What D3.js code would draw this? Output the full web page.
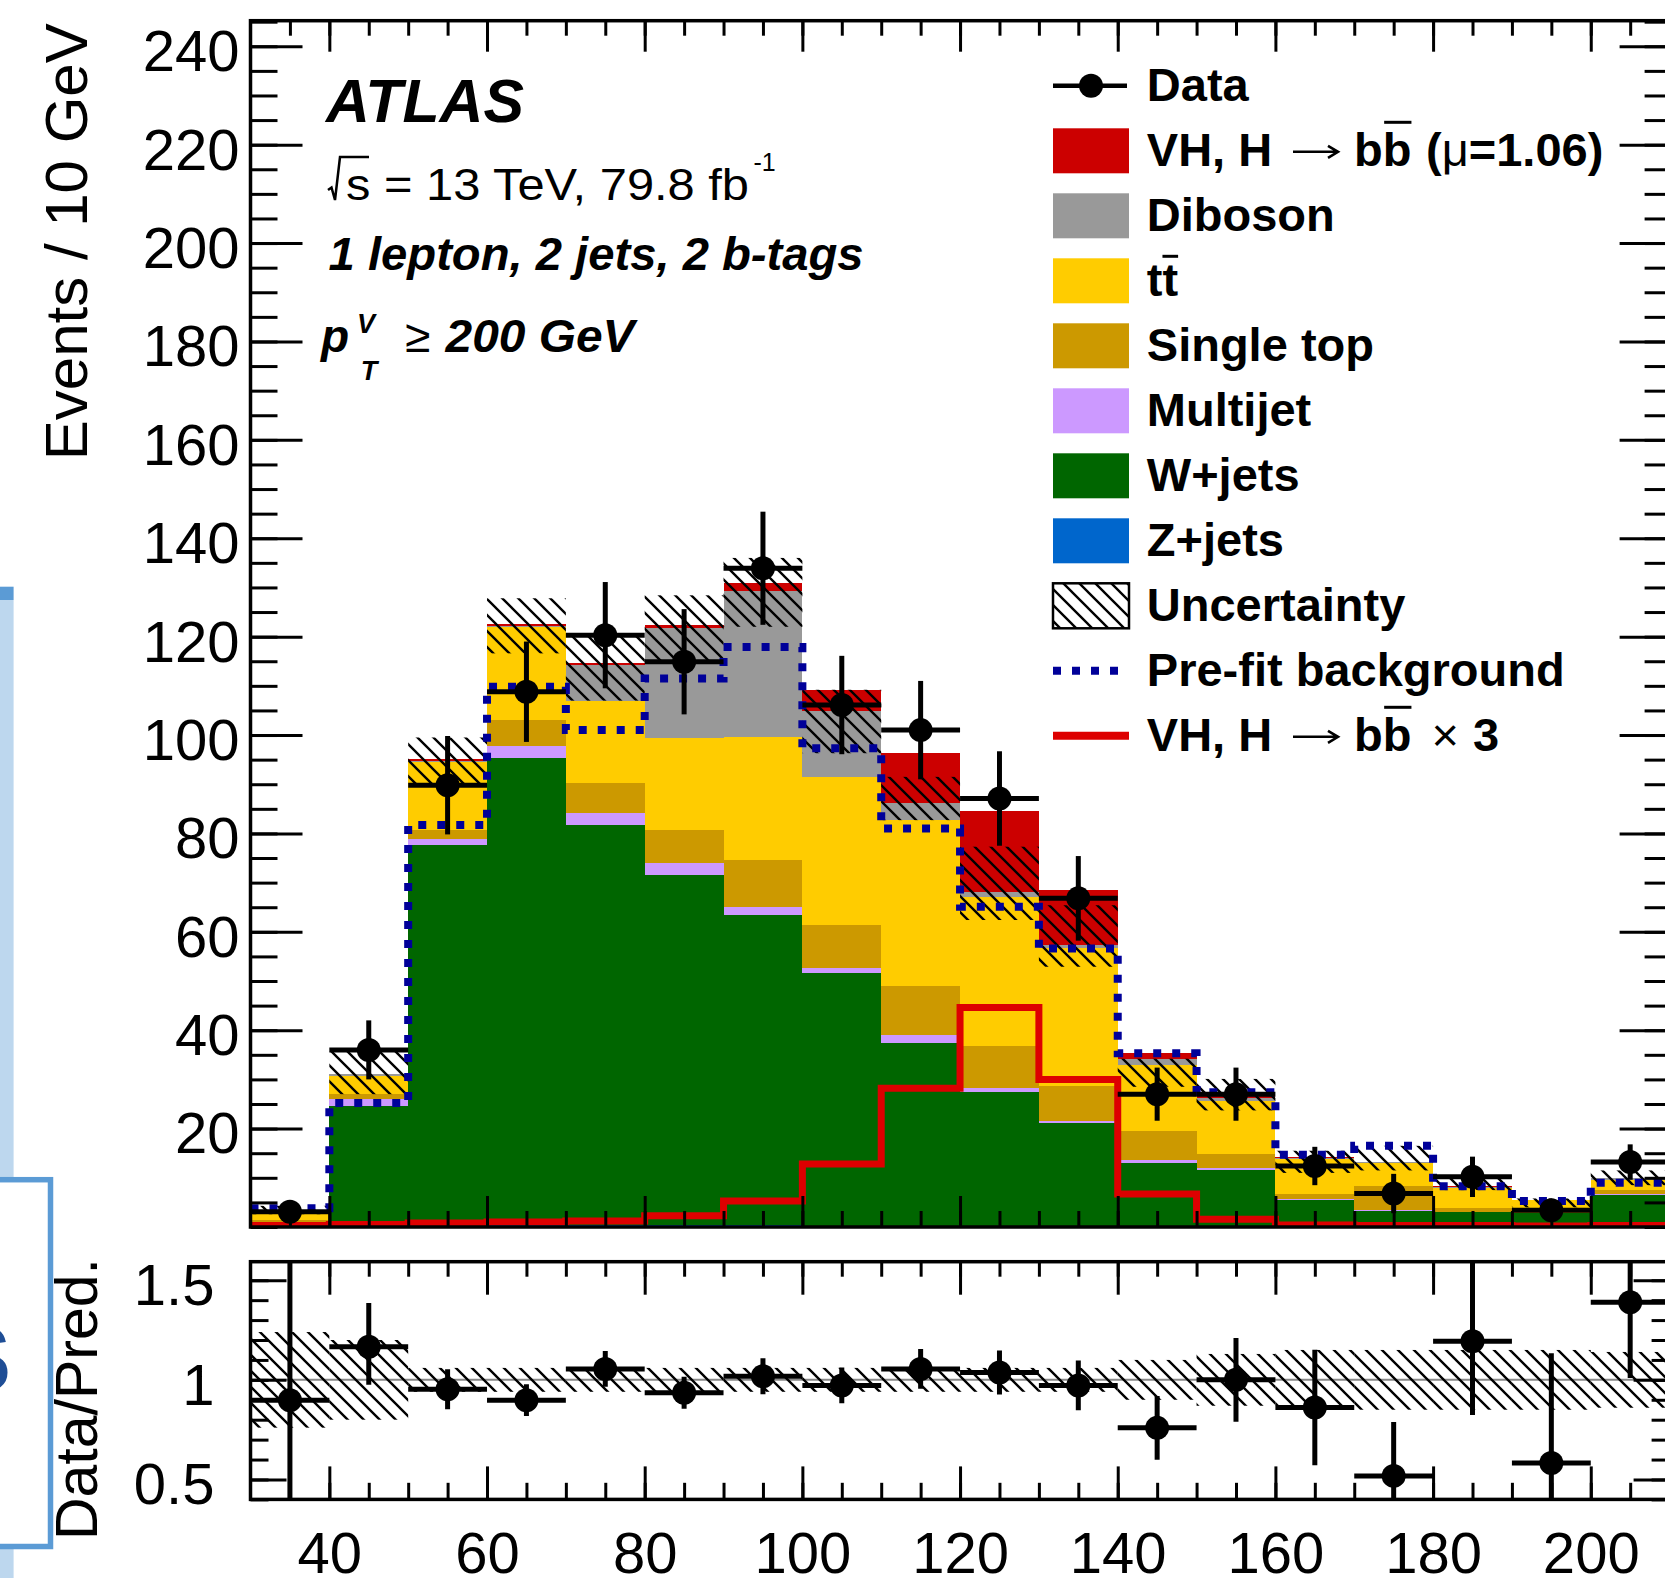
<!DOCTYPE html>
<html>
<head>
<meta charset="utf-8">
<script src="https://cdn.jsdelivr.net/npm/d3@7"></script>
<style>
body{margin:0;background:#fff;}
svg{display:block;font-family:"Liberation Sans",Arial,sans-serif;}
</style>
</head>
<body>
<svg id="chart" width="1665" height="1578"></svg>
<script>
// bins: lower edges in GeV, all 10 GeV wide
var binLo = [30,40,50,60,70,80,90,100,110,120,130,140,150,160,170,180,190,200];
var binWidth = 10;

// observed events and their error bars
var dataVals = [3.1,36.0,89.8,108.8,120.3,114.9,133.9,106.1,101.0,87.1,66.8,27.0,27.0,12.4,6.8,10.2,3.4,13.2];
var dataErr  = [1.9,6.0,10.0,10.2,10.8,10.7,11.5,10.0,10.0,9.6,8.6,5.4,5.4,3.9,4.0,4.1,1.9,3.6];

// post-fit stack components (bottom to top)
var zjets     = [0.05,0.3,0.4,0.4,0.5,0.5,0.4,0.3,0.3,0.3,0.3,0.3,0.2,0.1,0.1,0.1,0.1,0.1];
var wjets     = [0.8,24.3,77.2,94.9,81.2,71.0,63.0,51.3,37.0,27.2,20.8,12.8,11.3,5.3,3.2,2.9,2.7,6.4];
var multijet  = [0.1,1.5,1.3,2.4,2.4,2.4,1.7,1.0,1.8,0.8,0.4,0.5,0.4,0.2,0.1,0.1,0.1,0.2];
var singletop = [0.5,1.0,1.8,5.4,6.2,6.8,9.5,8.8,9.8,8.4,7.2,6.0,3.0,1.2,4.9,0.7,0.2,0.8];
var ttbar     = [1.4,3.6,13.8,18.8,16.7,18.6,25.1,30.1,33.8,30.4,28.1,13.4,10.8,7.0,4.7,4.2,2.3,2.0];
var diboson   = [0.5,0.3,0.3,0.3,7.2,22.4,29.5,13.3,3.4,1.0,0.5,1.1,0.5,0.3,0.2,0.2,0.1,0.4];
var vhSignal  = [0.1,0.2,0.3,0.3,0.4,0.6,1.8,4.4,10.2,16.4,11.2,1.2,0.5,0.2,0.1,0.1,0.05,0.1];

// hatched uncertainty band
var uncLow  = [2.6,27.0,89.5,116.6,107.0,115.2,122.0,96.3,82.7,62.4,52.9,28.5,23.7,11.0,11.5,7.5,4.0,8.5];
var uncHigh = [4.3,35.7,99.5,127.8,120.0,128.4,136.0,109.2,91.5,77.3,65.4,34.2,30.1,15.5,16.5,10.5,5.8,11.5];

// overlays
var prefitBkg = [3.8,25.2,81.7,109.8,101.0,111.5,117.9,97.3,81.0,65.1,56.6,35.3,27.4,14.7,16.5,8.3,5.3,9.0];
var vhTimes3  = [0.3,0.5,0.8,1.0,1.2,2.3,5.3,12.8,28.2,44.6,30.0,6.7,1.6,0.4,0.3,0.3,0.2,0.3];

// ratio panel
var ratioVals = [0.898,1.166,0.953,0.898,1.055,0.935,1.018,0.972,1.055,1.037,0.972,0.759,1.0,0.861,0.518,1.194,0.583,1.389];
var ratioUp   = [0.85,0.22,0.1,0.08,0.09,0.08,0.09,0.09,0.1,0.11,0.125,0.16,0.21,0.29,0.27,0.5,0.55,0.4];
var ratioDown = [0.5,0.19,0.1,0.08,0.09,0.08,0.09,0.09,0.1,0.11,0.125,0.16,0.21,0.29,0.25,0.37,0.4,0.38];
var ratioBand = [0.24,0.2,0.06,0.06,0.06,0.06,0.06,0.06,0.06,0.06,0.06,0.1,0.13,0.15,0.15,0.15,0.15,0.14];

// tick labels
var xTickLabels = [40,60,80,100,120,140,160,180,200];
var yTickLabels = [20,40,60,80,100,120,140,160,180,200,220,240];
var rTickLabels = [0.5,1,1.5];

var svg = d3.select("#chart");
var x  = d3.scaleLinear().domain([30,210]).range([250.5,1669.6]);
var y  = d3.scaleLinear().domain([0,245.2]).range([1227,20.7]);
var yr = d3.scaleLinear().domain([0.4,1.593]).range([1499.4,1261.7]);

var defs = svg.append("defs");
defs.append("pattern").attr("id","hatch").attr("patternUnits","userSpaceOnUse")
  .attr("width",16).attr("height",16)
  .append("path").attr("d","M-4,-4L20,20M-4,12L4,20M12,-4L20,4")
  .attr("stroke","#000").attr("stroke-width",2.4);
defs.append("clipPath").attr("id","clipMain").append("rect")
  .attr("x",250.5).attr("y",20.7).attr("width",1419.1).attr("height",1206.3);
defs.append("clipPath").attr("id","clipRatio").append("rect")
  .attr("x",250.5).attr("y",1261.7).attr("width",1419.1).attr("height",237.7);

// leftovers of the slide behind the plot
var bg = svg.append("g");
bg.append("rect").attr("x",0).attr("y",600).attr("width",13.6).attr("height",978).attr("fill","#bdd7ee");
bg.append("rect").attr("x",0).attr("y",586.7).attr("width",13.6).attr("height",13.3).attr("fill","#5b9bd5");
bg.append("rect").attr("x",-5).attr("y",1179.7).attr("width",55.5).attr("height",366.8)
  .attr("fill","#fff").attr("stroke","#5b9bd5").attr("stroke-width",5.5);
bg.append("text").attr("x",11).attr("y",1391).attr("text-anchor","end")
  .attr("font-size",92).attr("font-weight","bold").attr("fill","#1f4e96").text("S");

// ---------- main panel ----------
var keys = ["zjets","wjets","multijet","singletop","ttbar","diboson","vh"];
var colors = {zjets:"#0066cc", wjets:"#006600", multijet:"#cc99ff", singletop:"#cc9900",
              ttbar:"#ffcc00", diboson:"#999999", vh:"#cc0000"};
var rows = binLo.map(function(lo,i){
  return {lo:lo, zjets:zjets[i], wjets:wjets[i], multijet:multijet[i], singletop:singletop[i],
          ttbar:ttbar[i], diboson:diboson[i], vh:vhSignal[i]};
});
var stacked = d3.stack().keys(keys)(rows);

var main = svg.append("g").attr("clip-path","url(#clipMain)");
main.selectAll("g.layer").data(stacked).enter().append("g")
  .attr("class","layer").attr("fill",function(d){ return colors[d.key]; })
  .selectAll("rect").data(function(d){ return d; }).enter().append("rect")
  .attr("shape-rendering","crispEdges")
  .attr("x",function(d){ return x(d.data.lo); })
  .attr("width",function(d){ return x(d.data.lo+binWidth)-x(d.data.lo); })
  .attr("y",function(d){ return y(d[1]); })
  .attr("height",function(d){ return y(d[0])-y(d[1]); });

main.selectAll("rect.unc").data(binLo).enter().append("rect").attr("class","unc")
  .attr("x",function(d){ return x(d); })
  .attr("width",function(d){ return x(d+binWidth)-x(d); })
  .attr("y",function(d,i){ return y(uncHigh[i]); })
  .attr("height",function(d,i){ return y(uncLow[i])-y(uncHigh[i]); })
  .attr("fill","url(#hatch)");

var step = d3.line().x(function(d){ return x(d[0]); }).y(function(d){ return y(d[1]); })
  .curve(d3.curveStepAfter);
function stepPts(vals){
  var p = binLo.map(function(lo,i){ return [lo, vals[i]]; });
  p.push([binLo[binLo.length-1]+binWidth, vals[vals.length-1]]);
  return p;
}
main.append("path").attr("d",step(stepPts(vhTimes3)))
  .attr("fill","none").attr("stroke","#dd0000").attr("stroke-width",7);
main.append("path").attr("d",step(stepPts(prefitBkg)))
  .attr("fill","none").attr("stroke","#000099").attr("stroke-width",8)
  .attr("stroke-dasharray","8,11");

// data points
var pts = main.append("g").attr("stroke","#000").attr("stroke-width",5);
pts.selectAll("line.h").data(binLo).enter().append("line")
  .attr("x1",function(d){ return x(d); }).attr("x2",function(d){ return x(d+binWidth); })
  .attr("y1",function(d,i){ return y(dataVals[i]); }).attr("y2",function(d,i){ return y(dataVals[i]); });
pts.selectAll("line.v").data(binLo).enter().append("line")
  .attr("x1",function(d){ return x(d+binWidth/2); }).attr("x2",function(d){ return x(d+binWidth/2); })
  .attr("y1",function(d,i){ return y(dataVals[i]+dataErr[i]); })
  .attr("y2",function(d,i){ return y(Math.max(0,dataVals[i]-dataErr[i])); });
pts.selectAll("circle").data(binLo).enter().append("circle")
  .attr("cx",function(d){ return x(d+binWidth/2); })
  .attr("cy",function(d,i){ return y(dataVals[i]); })
  .attr("r",12).attr("fill","#000").attr("stroke","none");

// ---------- ratio panel ----------
var rat = svg.append("g").attr("clip-path","url(#clipRatio)");
rat.append("line").attr("x1",x(30)).attr("x2",x(210)).attr("y1",yr(1)).attr("y2",yr(1))
  .attr("stroke","#888").attr("stroke-width",2);
rat.selectAll("rect.band").data(binLo).enter().append("rect")
  .attr("x",function(d){ return x(d); })
  .attr("width",function(d){ return x(d+binWidth)-x(d); })
  .attr("y",function(d,i){ return yr(1+ratioBand[i]); })
  .attr("height",function(d,i){ return yr(1-ratioBand[i])-yr(1+ratioBand[i]); })
  .attr("fill","url(#hatch)");
var rpts = rat.append("g").attr("stroke","#000").attr("stroke-width",5);
rpts.selectAll("line.h").data(binLo).enter().append("line")
  .attr("x1",function(d){ return x(d); }).attr("x2",function(d){ return x(d+binWidth); })
  .attr("y1",function(d,i){ return yr(ratioVals[i]); }).attr("y2",function(d,i){ return yr(ratioVals[i]); });
rpts.selectAll("line.v").data(binLo).enter().append("line")
  .attr("x1",function(d){ return x(d+binWidth/2); }).attr("x2",function(d){ return x(d+binWidth/2); })
  .attr("y1",function(d,i){ return yr(ratioVals[i]+ratioUp[i]); })
  .attr("y2",function(d,i){ return yr(ratioVals[i]-ratioDown[i]); });
rpts.selectAll("circle").data(binLo).enter().append("circle")
  .attr("cx",function(d){ return x(d+binWidth/2); })
  .attr("cy",function(d,i){ return yr(ratioVals[i]); })
  .attr("r",12).attr("fill","#000").attr("stroke","none");

// ---------- axes ----------
var tickFont = 58;
function axis(gen, tx, ty){
  var g = svg.append("g").attr("transform","translate("+tx+","+ty+")").call(gen);
  g.select(".domain").remove();
  g.selectAll(".tick line").attr("stroke","#000").attr("stroke-width",3);
  g.attr("font-size",tickFont).attr("font-family","Liberation Sans, Arial, sans-serif");
  g.selectAll(".tick text").attr("fill","#000");
  return g;
}
var xMinor = d3.range(35,210,5);
var yMinor = d3.range(0,246,5);
var rMinor = d3.range(4,16).map(function(v){ return v/10; });

// main y
axis(d3.axisLeft(y).tickValues(yTickLabels).tickSize(-52).tickPadding(11), 250.5, 0)
  .selectAll(".tick text").attr("dy","0.42em");
axis(d3.axisLeft(y).tickValues(yMinor).tickSize(-27).tickFormat(""), 250.5, 0);
axis(d3.axisRight(y).tickValues(yTickLabels).tickSize(-50).tickFormat(""), 1669.6, 0);
axis(d3.axisRight(y).tickValues(yMinor).tickSize(-25).tickFormat(""), 1669.6, 0);
// main x (no labels)
axis(d3.axisTop(x).tickValues(xTickLabels).tickSize(-31).tickFormat(""), 0, 20.7);
axis(d3.axisTop(x).tickValues(xMinor).tickSize(-15).tickFormat(""), 0, 20.7);
axis(d3.axisBottom(x).tickValues(xTickLabels).tickSize(-31).tickFormat(""), 0, 1227);
axis(d3.axisBottom(x).tickValues(xMinor).tickSize(-16).tickFormat(""), 0, 1227);
// ratio y
axis(d3.axisLeft(yr).tickValues(rTickLabels).tickSize(-36).tickPadding(36)
  .tickFormat(function(d){ return String(d); }), 250.5, 0)
  .selectAll(".tick text").attr("dy","0.42em");
axis(d3.axisLeft(yr).tickValues(rMinor).tickSize(-18).tickFormat(""), 250.5, 0);
axis(d3.axisRight(yr).tickValues(rTickLabels).tickSize(-36).tickFormat(""), 1669.6, 0);
axis(d3.axisRight(yr).tickValues(rMinor).tickSize(-18).tickFormat(""), 1669.6, 0);
// ratio x
axis(d3.axisTop(x).tickValues(xTickLabels).tickSize(-33).tickFormat(""), 0, 1261.7);
axis(d3.axisTop(x).tickValues(xMinor).tickSize(-15).tickFormat(""), 0, 1261.7);
axis(d3.axisBottom(x).tickValues(xTickLabels).tickSize(-33).tickPadding(32), 0, 1499.4);
axis(d3.axisBottom(x).tickValues(xMinor).tickSize(-16.6).tickFormat(""), 0, 1499.4);

// frames
svg.append("rect").attr("x",250.5).attr("y",20.7).attr("width",1419.1).attr("height",1206.3)
  .attr("fill","none").attr("stroke","#000").attr("stroke-width",3.5);
svg.append("rect").attr("x",250.5).attr("y",1261.7).attr("width",1419.1).attr("height",237.7)
  .attr("fill","none").attr("stroke","#000").attr("stroke-width",3.5);

// axis titles
svg.append("text").attr("transform","translate(87,23.3) rotate(-90)").attr("text-anchor","end")
  .attr("font-size",60).text("Events / 10 GeV");
svg.append("text").attr("transform","translate(96.5,1258) rotate(-90)").attr("text-anchor","end")
  .attr("font-size",59).text("Data/Pred.");

// ---------- labels ----------
// pieces: {t, x (optional), size, bold, it, dy, len (stretched width), bar:[from,to,height]}
function rich(g, x0, yb, segs){
  var cx = x0;
  segs.forEach(function(s){
    if (s.x != null) cx = s.x;
    var t = g.append("text").attr("x",cx).attr("y",yb+(s.dy||0))
      .attr("font-size",s.size).attr("font-weight",s.bold ? "bold" : "normal")
      .attr("font-style",s.it ? "italic" : "normal").text(s.t);
    if (s.len) t.attr("textLength",s.len).attr("lengthAdjust","spacingAndGlyphs");
    var w = s.len || t.node().getComputedTextLength();
    if (s.bar) {
      g.append("line").attr("x1",cx+w*s.bar[0]).attr("x2",cx+w*s.bar[1])
        .attr("y1",yb-s.bar[2]).attr("y2",yb-s.bar[2])
        .attr("stroke","#000").attr("stroke-width",3);
    }
    cx += w;
  });
}
// ROOT style long thin arrow
function arrow(g, x1, x2, yc){
  g.append("path").attr("d","M"+x1+","+yc+"L"+x2+","+yc+"M"+(x2-10)+","+(yc-6)+"L"+x2+","+yc+"L"+(x2-10)+","+(yc+6))
    .attr("fill","none").attr("stroke","#000").attr("stroke-width",2.6);
}

var lab = svg.append("g").attr("fill","#000");
rich(lab, 326, 121.7, [{t:"ATLAS", size:61, bold:true, it:true, len:198}]);
// sqrt(s) drawn as a path
lab.append("path").attr("d","M328,190L331.5,187.5L335,200L340,157L369,157")
  .attr("fill","none").attr("stroke","#000").attr("stroke-width",2.5);
rich(lab, 346, 200, [
  {t:"s = 13 TeV, 79.8 fb", size:44, len:403},
  {t:"-1", size:25, dy:-29, x:753.5}
]);
rich(lab, 328.6, 270, [{t:"1 lepton, 2 jets, 2 b-tags", size:46, bold:true, it:true, len:535}]);
rich(lab, 321, 352, [
  {t:"p", size:46, bold:true, it:true},
  {t:"V", size:27, bold:true, it:true, dy:-19, x:357},
  {t:"T", size:27, bold:true, it:true, dy:28, x:360.7},
  {t:"\u2265", size:46, x:405},
  {t:"200 GeV", size:46, bold:true, it:true, x:445.5, len:189}
]);

// ---------- legend ----------
var leg = svg.append("g");
var lx = 1053, lw = 76, tx = 1146.8, rowH = 65, row0 = 85.8;
function rowY(i){ return row0 + i*rowH; }

// Data
leg.append("line").attr("x1",lx).attr("x2",lx+74).attr("y1",rowY(0)).attr("y2",rowY(0))
  .attr("stroke","#000").attr("stroke-width",4.5);
leg.append("circle").attr("cx",lx+38).attr("cy",rowY(0)).attr("r",12).attr("fill","#000");

// filled boxes
var boxKeys = ["vh","diboson","ttbar","singletop","multijet","wjets","zjets"];
boxKeys.forEach(function(k,i){
  leg.append("rect").attr("x",lx).attr("y",rowY(i+1)-22.5).attr("width",lw).attr("height",45)
    .attr("fill",colors[k]);
});
// uncertainty box
leg.append("rect").attr("x",lx).attr("y",rowY(8)-22.5).attr("width",lw).attr("height",45)
  .attr("fill","url(#hatch)").attr("stroke","#000").attr("stroke-width",2.5);
// pre-fit and VHx3 lines
leg.append("line").attr("x1",lx).attr("x2",lx+lw).attr("y1",rowY(9)).attr("y2",rowY(9))
  .attr("stroke","#000099").attr("stroke-width",8).attr("stroke-dasharray","8,11");
leg.append("line").attr("x1",lx).attr("x2",lx+lw).attr("y1",rowY(10)).attr("y2",rowY(10))
  .attr("stroke","#dd0000").attr("stroke-width",8);

var lt = leg.append("g").attr("fill","#000");
var base = 15.5, fs = 47;
function plain(i, s){
  lt.append("text").attr("x",tx).attr("y",rowY(i)+base).attr("font-size",fs)
    .attr("font-weight","bold").text(s);
}
plain(0,"Data");
rich(lt, tx, rowY(1)+base, [
  {t:"VH, H", size:fs, bold:true},
  {t:"b", size:fs, bold:true, x:1354},
  {t:"b", size:fs, bold:true, bar:[0.05,1,44]},
  {t:"(", size:fs, bold:true, x:1426},
  {t:"\u03bc", size:fs},
  {t:"=1.06)", size:fs, bold:true}
]);
arrow(lt, 1293, 1338, rowY(1)+1);
plain(2,"Diboson");
rich(lt, tx, rowY(3)+base, [
  {t:"t", size:fs, bold:true},
  {t:"t", size:fs, bold:true, bar:[0,1,40]}
]);
plain(4,"Single top");
plain(5,"Multijet");
plain(6,"W+jets");
plain(7,"Z+jets");
plain(8,"Uncertainty");
plain(9,"Pre-fit background");
rich(lt, tx, rowY(10)+base, [
  {t:"VH, H", size:fs, bold:true},
  {t:"b", size:fs, bold:true, x:1354},
  {t:"b", size:fs, bold:true, bar:[0.05,1,44]},
  {t:"\u00d7", size:fs, x:1431.5},
  {t:"3", size:fs, bold:true, x:1473}
]);
arrow(lt, 1293, 1338, rowY(10)+1);
</script>
</body>
</html>
